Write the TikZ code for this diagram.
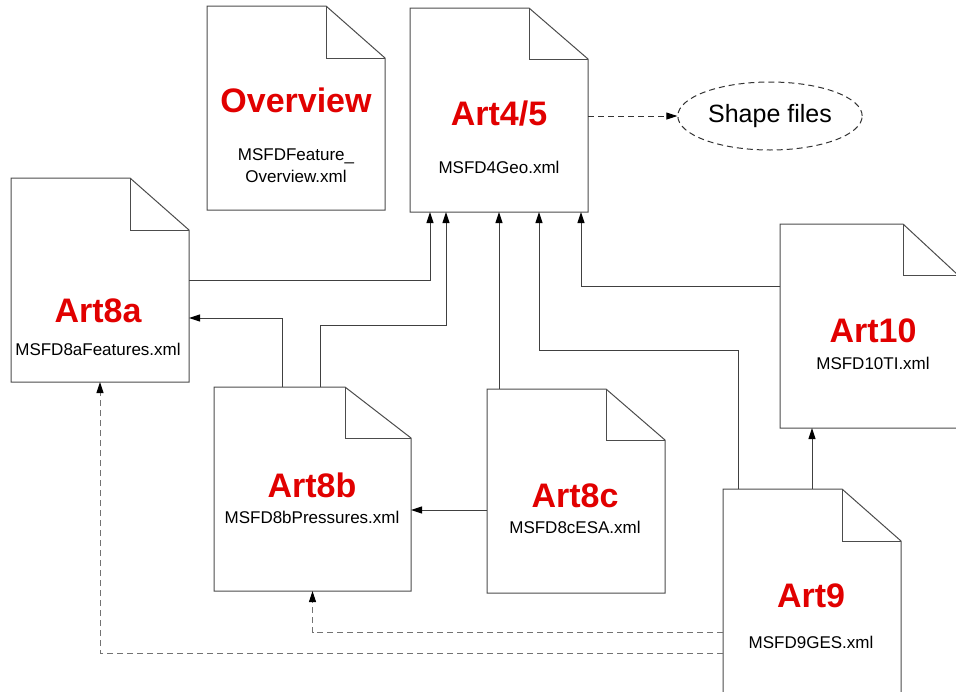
\documentclass[tikz,border=0pt]{standalone}
\usepackage{fontspec}
\setmainfont{Liberation Sans}
\usetikzlibrary{shapes.geometric,arrows.meta}

\definecolor{artred}{RGB}{225,0,0}

\tikzset{
  docbox/.style={minimum height=204pt, inner sep=0pt, outer sep=0pt},
  docline/.style={draw=black!70, line width=1pt, fill=white},
  doctitle/.style={text=artred, font=\fontsize{34}{36}\selectfont\bfseries, anchor=base},
  docfile/.style={font=\fontsize{17}{19}\selectfont, anchor=base},
  link/.style={draw=black!75, line width=1pt},
  arr/.style={link, -{Triangle[length=11pt,width=7pt,color=black]}},
  dasharr/.style={arr, draw=black!55, dash pattern=on 6pt off 4pt},
}

% outline of a file: node name, fold width, fold height
\newcommand{\fileoutline}[3]{%
  \draw[docline] (#1.north west) -- ([xshift=-#2]#1.north east) -- ([yshift=-#3]#1.north east)
    -- (#1.south east) -- (#1.south west) -- cycle;
  \draw[docline, fill=none] ([xshift=-#2]#1.north east) |- ([yshift=-#3]#1.north east);
}

\begin{document}
\begin{tikzpicture}[x=1pt, y=-1pt]

  % Bounding box of the scheme
  \useasboundingbox (0,0) rectangle (956,691);

  %%%%%%%%%%%%%%%%%%%%%%%%%%%%%%%%% Files %%%%%%%%%%%%%%%%%%%%%%%%%%%%%%%%%%%%
  \draw (296,108) node[docbox, minimum width=178pt] (overview) {} ;
  \draw (499,110) node[docbox, minimum width=178pt] (art45) {} ;
  \draw (100,280) node[docbox, minimum width=178pt] (art8a) {} ;
  \draw (312.5,489) node[docbox, minimum width=197pt] (art8b) {} ;
  \draw (576,491) node[docbox, minimum width=178pt] (art8c) {} ;
  \draw (812,591) node[docbox, minimum width=178pt] (art9) {} ;
  \draw (869,326) node[docbox, minimum width=178pt] (art10) {} ;

  \fileoutline{overview}{59pt}{52pt}
  \fileoutline{art45}{59pt}{51pt}
  \fileoutline{art8a}{59pt}{52pt}
  \fileoutline{art8b}{66pt}{51pt}
  \fileoutline{art8c}{59pt}{51pt}
  \fileoutline{art9}{59pt}{52pt}
  \fileoutline{art10}{55pt}{51pt}

  % Titles and file names
  \draw (296,112) node[doctitle] (overviewT) {Overview} ;
  \draw (296,160) node[docfile] (overviewF1) {MSFDFeature\_} ;
  \draw (296,182) node[docfile] (overviewF2) {Overview.xml} ;

  \draw (499,125) node[doctitle] (art45T) {Art4/5} ;
  \draw (499,173) node[docfile] (art45F) {MSFD4Geo.xml} ;

  \draw (98,322) node[doctitle] (art8aT) {Art8a} ;
  \draw (98,355) node[docfile] (art8aF) {MSFD8aFeatures.xml} ;

  \draw (312,497) node[doctitle] (art8bT) {Art8b} ;
  \draw (312,523) node[docfile] (art8bF) {MSFD8bPressures.xml} ;

  \draw (575,507) node[doctitle] (art8cT) {Art8c} ;
  \draw (575,533) node[docfile] (art8cF) {MSFD8cESA.xml} ;

  \draw (811,607) node[doctitle] (art9T) {Art9} ;
  \draw (811,648) node[docfile] (art9F) {MSFD9GES.xml} ;

  \draw (873,342) node[doctitle] (art10T) {Art10} ;
  \draw (873,369) node[docfile] (art10F) {MSFD10TI.xml} ;

  % Shape files
  \draw (770,116) node[ellipse, draw=black!80, dash pattern=on 6pt off 4pt, line width=1pt,
    minimum width=165pt, minimum height=68pt, font=\fontsize{25}{27}\selectfont] (shape) {Shape files} ;

  %%%%%%%%%%%%%%%%%%%%%%%%%%%%%%%%% Links %%%%%%%%%%%%%%%%%%%%%%%%%%%%%%%%%%%%
  \draw[arr] (art8a.east) -| ([xshift=-69pt]art45.south) ;
  \draw[arr] ([xshift=-30pt]art8b.north) |- ([yshift=-38pt]art8a.east) ;
  \draw[arr] ([xshift=8pt]art8b.north) -- ++(0,-62) -| ([xshift=-53pt]art45.south) ;
  \draw[arr] (art8c.north -| art45.south) -- (art45.south) ;
  \draw[arr] ([xshift=-74pt]art9.north) -- ++(0,-139) -| ([xshift=40pt]art45.south) ;
  \draw[arr] ([yshift=40pt]art10.west) -| ([xshift=82pt]art45.south) ;
  \draw[arr] (art9.north) -- (art9.north |- art10.south) ;
  \draw[arr] ([yshift=-19pt]art8c.west) -- ([yshift=-19pt]art8c.west -| art8b.east) ;

  % Dashed links
  \draw[dasharr] ([yshift=-41pt]art9.west) -| (art8b.south) ;
  \draw[dasharr] ([yshift=-62pt]art9.west) -| (art8a.south) ;
  \draw[dasharr, draw=black!80] ([yshift=-6pt]art45.east) -- (shape.west) ;

\end{tikzpicture}
\end{document}
